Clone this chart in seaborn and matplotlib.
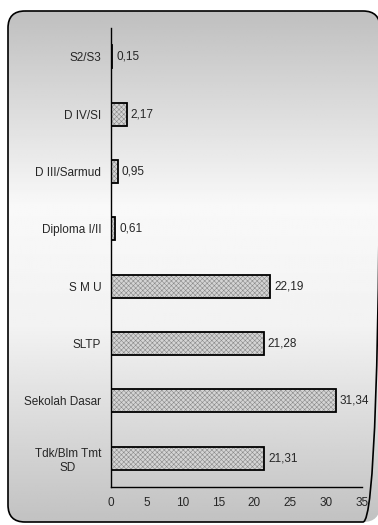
import numpy as np
import pandas as pd
import matplotlib.pyplot as plt
from matplotlib.patches import FancyBboxPatch, Rectangle
import seaborn as sns

sns.set_style("white")
plt.rcParams['font.family'] = ['Liberation Sans', 'DejaVu Sans']

# data (percent), top to bottom
categories = ["S2/S3", "D IV/SI", "D III/Sarmud", "Diploma I/II",
              "S M U", "SLTP", "Sekolah Dasar", "Tdk/Blm Tmt\nSD"]
values = [0.15, 2.17, 0.95, 0.61, 22.19, 21.28, 31.34, 21.31]
xticks = [0, 5, 10, 15, 20, 25, 30, 35]

df = pd.DataFrame({"kategori": categories, "persen": values})

W, H = 378, 525
fig = plt.figure(figsize=(W / 100, H / 100), dpi=100)

# background: rounded box with grey-white-grey vertical gradient
# (its right side runs just past the edge of the picture)
bg = fig.add_axes([0, 0, 1, 1], zorder=-1)
bg.axis("off")
rows = np.linspace(0, 1, 256)
shade = np.interp(rows, [0, 0.38, 0.62, 1], [0.75, 0.975, 0.95, 0.76])
grad = np.repeat(shade[:, None], 2, axis=1)
box = FancyBboxPatch((8, 11), 372, 511, boxstyle="round,pad=0,rounding_size=17",
                     facecolor="none", edgecolor="black", linewidth=1.2)
bg.add_patch(box)
im = bg.imshow(grad, cmap="gray", vmin=0, vmax=1, aspect="auto",
               extent=(8, W, 522, 11))
im.set_clip_path(box)
bg.set_xlim(0, W)
bg.set_ylim(H, 0)
box.set_clip_path(Rectangle((0, 0), W, H, transform=bg.transData))

ax = fig.add_axes([111 / W, 1 - 487 / H, (362 - 111) / W, (487 - 28) / H])
ax.patch.set_alpha(0)

plt.rcParams['hatch.linewidth'] = 0.4
sns.barplot(data=df, x="persen", y="kategori", orient="h", ax=ax,
            color="#d4d4d4", saturation=1, width=0.4,
            edgecolor="#8a8a8a", linewidth=0, hatch="xxxxxxx")
sns.barplot(data=df, x="persen", y="kategori", orient="h", ax=ax,
            fill=False, width=0.4, edgecolor="black", linewidth=1.3)

ax.bar_label(ax.containers[-1], labels=[f"{v:.2f}".replace(".", ",") for v in values],
             padding=3, fontsize=8.5)

ax.set_xlim(0, 35)
ax.set_ylim(len(categories) - 0.5, -0.5)
ax.set_xticks(xticks)
ax.set_xticklabels([str(t) for t in xticks], fontsize=8.5)
ax.set_yticks(np.arange(len(categories) + 1) - 0.5)
ax.set_yticklabels([])
ax.set_yticks(np.arange(len(categories)), minor=True)
ax.set_yticklabels(categories, minor=True, fontsize=8.5, multialignment="center")
ax.tick_params(axis="y", which="minor", length=0, pad=7)
ax.tick_params(axis="both", which="major", length=3, width=1, color="black",
               direction="out", pad=4)
ax.set_xlabel("")
ax.set_ylabel("")
for s in ["top", "right"]:
    ax.spines[s].set_visible(False)
for s in ["left", "bottom"]:
    ax.spines[s].set_color("black")
    ax.spines[s].set_linewidth(1)

fig.savefig("out.png", dpi=100, bbox_inches=None)
